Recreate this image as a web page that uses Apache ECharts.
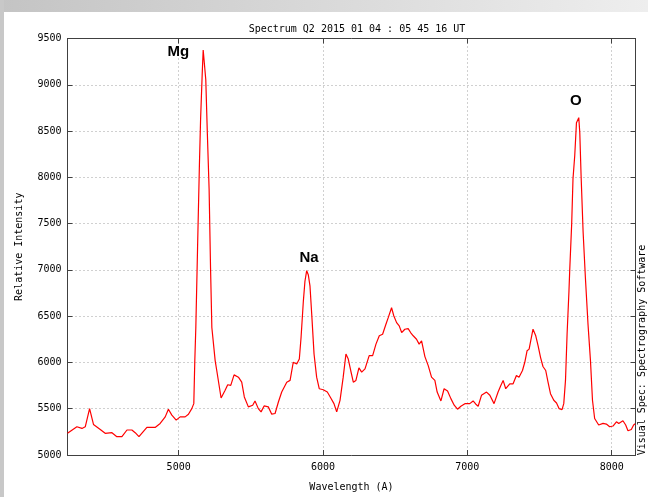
<!DOCTYPE html>
<html>
<head>
<meta charset="utf-8">
<script src="https://cdn.jsdelivr.net/npm/echarts@6/dist/echarts.min.js"></script>
<style>
  html, body { margin: 0; padding: 0; background: #fff; }
  #chart { width: 648px; height: 497px; }
</style>
</head>
<body>
<div id="chart"></div>
<script>
// Wavelength (A) of each sample
const wavelengths = [
  4230, 4295, 4330, 4353, 4383, 4392, 4410, 4457, 4491, 4503, 4538, 4572, 4607, 4642, 4676, 4699,
  4725, 4780, 4837, 4872, 4907, 4929, 4953, 4983, 5010, 5045, 5068, 5091, 5105, 5112, 5119, 5131,
  5144, 5152, 5163, 5170, 5183, 5188, 5199, 5211, 5221, 5230, 5253, 5264, 5294, 5322, 5340, 5361,
  5384, 5414, 5437, 5455, 5483, 5513, 5529, 5552, 5571, 5592, 5621, 5645, 5668, 5691, 5714, 5749,
  5772, 5794, 5818, 5836, 5848, 5864, 5875, 5887, 5898, 5910, 5922, 5938, 5956, 5974, 6002, 6030,
  6053, 6076, 6095, 6118, 6140, 6159, 6175, 6192, 6210, 6228, 6249, 6268, 6291, 6320, 6344, 6367,
  6390, 6413, 6436, 6452, 6475, 6491, 6510, 6528, 6545, 6567, 6590, 6607, 6625, 6648, 6666, 6683,
  6706, 6729, 6752, 6775, 6791, 6817, 6839, 6863, 6886, 6909, 6932, 6955, 6983, 7017, 7040, 7059,
  7075, 7098, 7133, 7156, 7185, 7213, 7232, 7248, 7266, 7294, 7317, 7340, 7358, 7382, 7398, 7414,
  7428, 7439, 7455, 7474, 7490, 7507, 7524, 7543, 7559, 7576, 7599, 7618, 7636, 7656, 7668, 7680,
  7691, 7704, 7709, 7723, 7732, 7744, 7756, 7772, 7779, 7788, 7802, 7818, 7836, 7853, 7867, 7882,
  7910, 7940, 7963, 7986, 8009, 8033, 8049, 8061, 8078, 8097, 8113, 8136, 8152, 8163
]
// Relative intensity of each sample
const intensities = [
  5234, 5305, 5287, 5305, 5501, 5484, 5330, 5276, 5234, 5216, 5241, 5198, 5198, 5270, 5270, 5241,
  5198, 5298, 5298, 5341, 5412, 5495, 5431, 5377, 5412, 5412, 5441, 5501, 5555, 6020, 6377, 7234,
  8144, 8626, 9108, 9376, 9376, 9054, 8466, 7877, 7019, 6377, 6020, 5913, 5616, 5699, 5759, 5752,
  5866, 5841, 5787, 5627, 5520, 5538, 5584, 5501, 5466, 5530, 5520, 5441, 5448, 5573, 5680, 5787,
  5806, 6002, 5984, 6037, 6270, 6663, 6877, 6991, 6948, 6824, 6519, 6091, 5841, 5716, 5705, 5680,
  5619, 5555, 5466, 5591, 5841, 6091, 6037, 5913, 5787, 5806, 5941, 5895, 5930, 6074, 6074, 6198,
  6288, 6305, 6412, 6484, 6591, 6502, 6430, 6395, 6323, 6359, 6366, 6323, 6288, 6251, 6198, 6234,
  6063, 5966, 5841, 5806, 5680, 5584, 5716, 5691, 5609, 5538, 5495, 5527, 5555, 5555, 5584, 5549,
  5527, 5645, 5680, 5645, 5555, 5680, 5752, 5806, 5716, 5769, 5769, 5859, 5841, 5913, 6002, 6127,
  6144, 6234, 6359, 6288, 6181, 6055, 5956, 5913, 5787, 5662, 5591, 5562, 5501, 5491, 5555, 5806,
  6305, 6770, 6984, 7502, 7984, 8234, 8591, 8645, 8484, 8019, 7413, 6913, 6412, 6020, 5591, 5394,
  5324, 5341, 5334, 5305, 5313, 5359, 5341, 5324, 5370, 5324, 5262, 5276, 5324, 5337
]
// Line names written over the peaks: [name, wavelength, intensity]
const peakNames = [
  ['Mg', 4998, 9355],
  ['Na', 5903, 7125],
  ['O', 7752, 8830]
]

const spectrum = wavelengths.map((w, i) => [w, intensities[i]])

const monoFont = 'DejaVu Sans Mono'
const plainNumber = v => String(v)
const gridLine = { show: true, lineStyle: { color: '#a0a0a0', type: [1, 3], width: 1 } }
const borderLine = { show: true, onZero: false, lineStyle: { color: '#404040', width: 1 } }
const tick = { show: true, inside: true, length: 5, lineStyle: { color: '#404040' } }

const chart = echarts.init(document.getElementById('chart'), null, { renderer: 'canvas' })

chart.setOption({
  animation: false,
  backgroundColor: '#ffffff',
  title: {
    text: 'Spectrum Q2 2015 01 04 : 05 45 16 UT',
    left: 352,
    top: 19,
    textAlign: 'center',
    textStyle: { fontFamily: monoFont, fontSize: 10, fontWeight: 'normal', color: '#000' }
  },
  graphic: [
    {
      type: 'rect', z: -10, silent: true,
      shape: { x: 0, y: 0, width: 648, height: 12 },
      style: {
        fill: new echarts.graphic.LinearGradient(0, 0, 1, 0, [
          { offset: 0, color: '#c4c4c4' },
          { offset: 1, color: '#eeeeee' }
        ])
      }
    },
    {
      type: 'rect', z: -10, silent: true,
      shape: { x: 0, y: 0, width: 4, height: 497 },
      style: { fill: '#c8c8c8' }
    },
    {
      type: 'text', silent: true,
      x: 642, y: 350, rotation: Math.PI / 2,
      style: {
        text: 'Visual Spec: Spectrography Software',
        fontFamily: monoFont, fontSize: 10, fill: '#000',
        textAlign: 'center', textVerticalAlign: 'middle'
      }
    }
  ],
  grid: { left: 67.5, right: 12.5, top: 38.5, bottom: 38.5, containLabel: false },
  xAxis: [
    {
      type: 'value',
      min: 4230,
      max: 8165,
      splitNumber: 4,
      name: 'Wavelength (A)',
      nameLocation: 'middle',
      nameGap: 27,
      nameTextStyle: { fontFamily: monoFont, fontSize: 10, color: '#000' },
      axisLine: borderLine,
      axisTick: tick,
      axisLabel: {
        margin: 7, showMinLabel: false, showMaxLabel: false,
        fontFamily: monoFont, fontSize: 10, color: '#000', formatter: plainNumber
      },
      splitLine: gridLine
    },
    {
      type: 'value',
      position: 'top',
      min: 4230,
      max: 8165,
      splitNumber: 4,
      axisLine: borderLine,
      axisTick: tick,
      axisLabel: { show: false },
      splitLine: { show: false }
    }
  ],
  yAxis: [
    {
      type: 'value',
      min: 5000,
      max: 9500,
      interval: 500,
      name: 'Relative Intensity',
      nameLocation: 'middle',
      nameGap: 43,
      nameTextStyle: { fontFamily: monoFont, fontSize: 10, color: '#000' },
      axisLine: borderLine,
      axisTick: tick,
      axisLabel: { margin: 6, fontFamily: monoFont, fontSize: 10, color: '#000', formatter: plainNumber },
      splitLine: gridLine
    },
    {
      type: 'value',
      position: 'right',
      min: 5000,
      max: 9500,
      interval: 500,
      axisLine: borderLine,
      axisTick: tick,
      axisLabel: { show: false },
      splitLine: { show: false }
    }
  ],
  series: [
    {
      type: 'line',
      data: spectrum,
      showSymbol: false,
      smooth: false,
      lineStyle: { color: '#ff0000', width: 1.2 },
      z: 3
    },
    {
      // peak names
      type: 'scatter',
      data: peakNames.map(p => ({ name: p[0], value: [p[1], p[2]] })),
      symbol: 'circle',
      symbolSize: 1,
      itemStyle: { color: 'rgba(0,0,0,0)', opacity: 1 },
      silent: true,
      z: 4,
      label: {
        show: true,
        position: 'inside',
        fontFamily: 'Liberation Sans',
        fontWeight: 'bold',
        fontSize: 15,
        color: '#000',
        opacity: 1,
        formatter: p => p.name
      }
    }
  ]
})
</script>
</body>
</html>
